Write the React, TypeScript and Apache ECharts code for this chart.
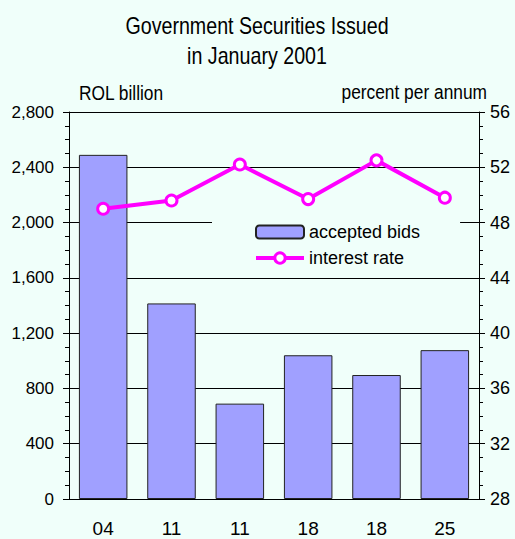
import React, { useEffect, useRef } from "react";
import * as echarts from "echarts";

const categories = ["04", "11", "11", "18", "18", "25"];
const acceptedBids = [2490, 1415, 690, 1040, 897, 1077];
const interestRate = [49.0, 49.6, 52.2, 49.7, 52.5, 49.8];
const leftTicks = [0, 2800, 400];
const rightTicks = [28, 56, 4];
const titleLines = ["Government Securities Issued", "in January 2001"];
const leftUnit = "ROL billion";
const rightUnit = "percent per annum";

const FONT = '"Liberation Sans", Arial, sans-serif';
const BG = "#F0FFFA";

export default function App() {
  const ref = useRef<HTMLDivElement>(null);
  useEffect(() => {
    if (!ref.current) return;
    const chart = echarts.init(ref.current, undefined, { renderer: "svg" });
    chart.setOption({
      animation: false,
      backgroundColor: BG,
      textStyle: { fontFamily: FONT },
      graphic: [
        {
          type: "text", x: 257, y: 26, scaleX: 0.855,
          style: { text: titleLines[0], font: `23px ${FONT}`, fill: "#000", textAlign: "center", textVerticalAlign: "middle" },
        },
        {
          type: "text", x: 257, y: 56, scaleX: 0.855,
          style: { text: titleLines[1], font: `23px ${FONT}`, fill: "#000", textAlign: "center", textVerticalAlign: "middle" },
        },
        {
          type: "text", x: 79, y: 93, scaleX: 0.89,
          style: { text: leftUnit, font: `19.5px ${FONT}`, fill: "#000", textAlign: "left", textVerticalAlign: "middle" },
        },
        {
          type: "text", x: 487, y: 92, scaleX: 0.89,
          style: { text: rightUnit, font: `19.5px ${FONT}`, fill: "#000", textAlign: "right", textVerticalAlign: "middle" },
        },
      ],
      legend: {
        left: 212,
        top: 210,
        orient: "vertical",
        padding: [13, 40, 6, 42],
        itemGap: 8,
        itemWidth: 48,
        itemHeight: 13,
        backgroundColor: BG,
        textStyle: { fontFamily: FONT, fontSize: 18, color: "#000" },
        data: ["accepted bids", "interest rate"],
      },
      grid: { left: 69, right: 36, top: 112, bottom: 40, containLabel: false },
      xAxis: {
        type: "category",
        data: categories,
        axisLine: { lineStyle: { color: "#000", width: 1 } },
        axisTick: { show: false },
        axisLabel: { color: "#000", fontSize: 19, fontFamily: FONT, margin: 20 },
      },
      yAxis: [
        {
          type: "value",
          min: leftTicks[0],
          max: leftTicks[1],
          interval: leftTicks[2],
          axisLine: { show: true, lineStyle: { color: "#000" } },
          axisTick: { show: true, length: 6, lineStyle: { color: "#000" } },
          minorTick: { show: true, splitNumber: 4, length: 4, lineStyle: { color: "#000" } },
          splitLine: { show: true, lineStyle: { color: "#000", width: 1 } },
          axisLabel: {
            color: "#000",
            fontSize: 17,
            fontFamily: FONT,
            margin: 15,
            formatter: (v: number) => v.toLocaleString("en-US"),
          },
        },
        {
          type: "value",
          min: rightTicks[0],
          max: rightTicks[1],
          interval: rightTicks[2],
          position: "right",
          axisLine: { show: true, lineStyle: { color: "#000" } },
          axisTick: { show: true, length: 6, lineStyle: { color: "#000" } },
          minorTick: { show: true, splitNumber: 4, length: 4, lineStyle: { color: "#000" } },
          splitLine: { show: false },
          axisLabel: { color: "#000", fontSize: 18, fontFamily: FONT, margin: 11 },
        },
      ],
      series: [
        {
          name: "accepted bids",
          type: "bar",
          data: acceptedBids,
          barWidth: "71%",
          itemStyle: { color: "#A0A0FF", borderColor: "#222", borderWidth: 1 },
        },
        {
          name: "interest rate",
          type: "line",
          yAxisIndex: 1,
          data: interestRate,
          symbol: "circle",
          symbolSize: 11,
          lineStyle: { color: "#FF00FF", width: 4 },
          itemStyle: { color: "#FFFFFF", borderColor: "#FF00FF", borderWidth: 3 },
          z: 5,
        },
      ],
    });
    chart.setOption({
      legend: {
        data: [
          { name: "accepted bids" },
          {
            name: "interest rate",
            lineStyle: { width: 4, color: "#FF00FF" },
            itemStyle: { color: "#FFFFFF", borderColor: "#FF00FF", borderWidth: 3 },
          },
        ],
      },
    });
    return () => chart.dispose();
  }, []);
  return <div ref={ref} style={{ width: 515, height: 539, position: "absolute", left: 0, top: 0 }} />;
}
